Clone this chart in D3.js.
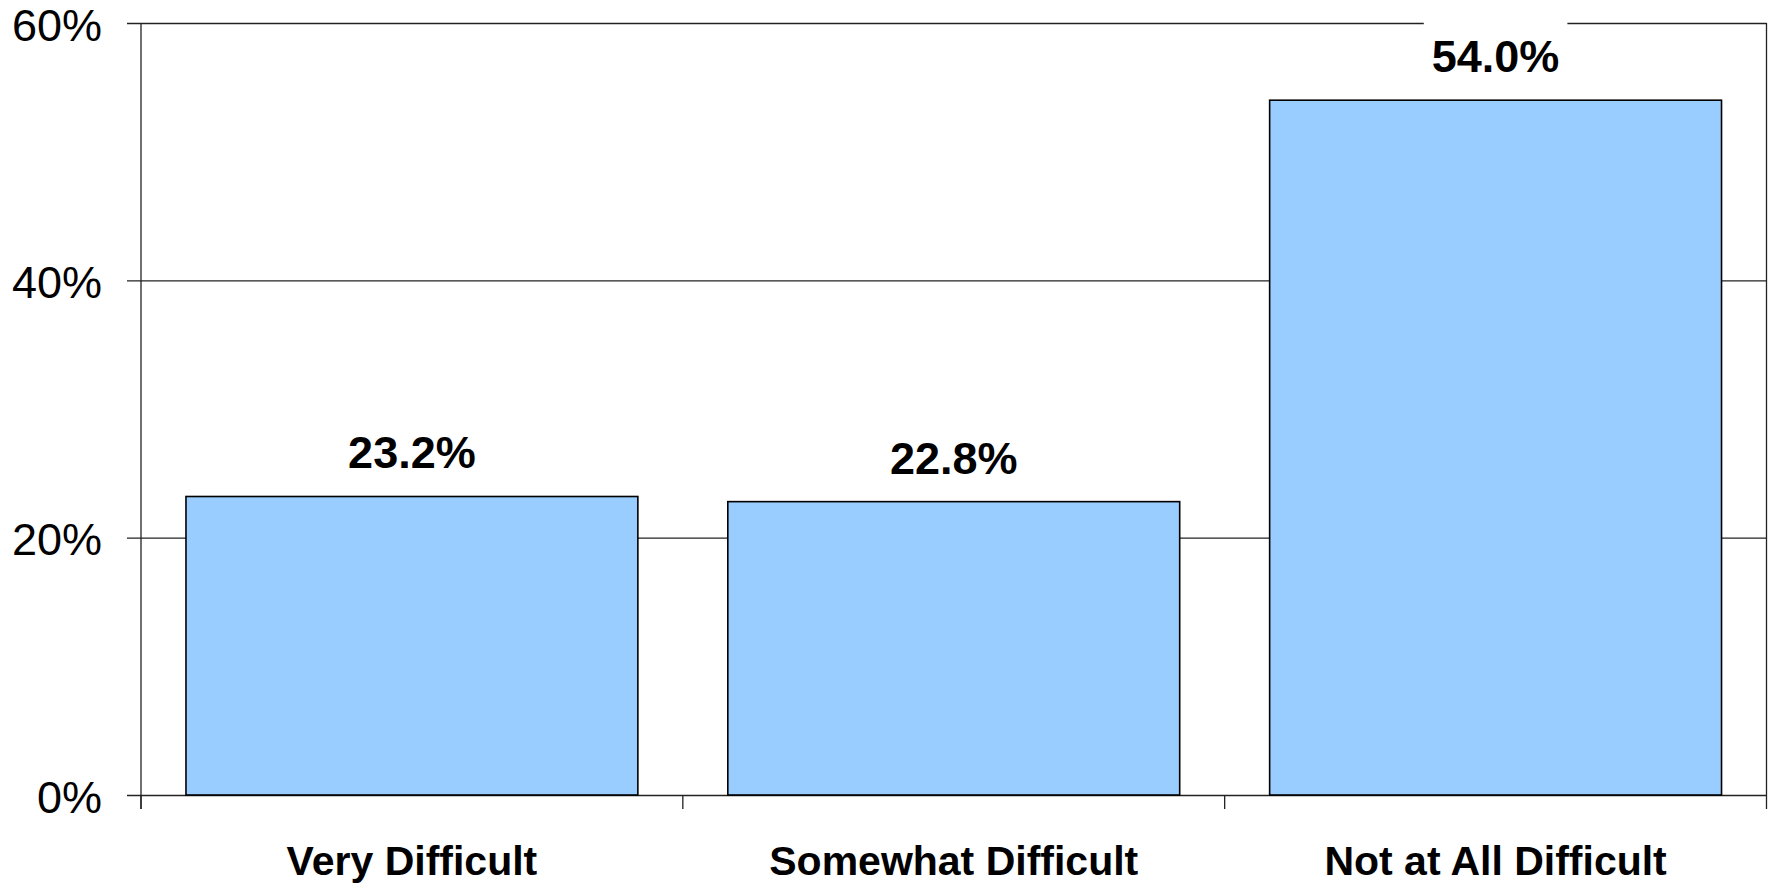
<!DOCTYPE html>
<html>
<head>
<meta charset="utf-8">
<script src="https://cdn.jsdelivr.net/npm/d3@7"></script>
<style>
  html, body { margin: 0; padding: 0; background: #fff; }
  svg { display: block; }
  text { font-family: "Liberation Sans", Arial, sans-serif; }
</style>
</head>
<body>
<svg id="chart" width="1777" height="883"></svg>
<script>
const categories = ["Very Difficult", "Somewhat Difficult", "Not at All Difficult"];
const values = [23.2, 22.8, 54.0];
const valueLabels = ["23.2%", "22.8%", "54.0%"];
const yTicks = [0, 20, 40, 60];
const yTickLabels = ["0%", "20%", "40%", "60%"];

const svg = d3.select("#chart");
const margin = { left: 141, right: 1777 - 1766.5, top: 23, bottom: 883 - 795 };
const W = 1777, H = 883;
const x0 = margin.left, x1 = W - margin.right;
const y0 = H - margin.bottom, y1 = margin.top;

const x = d3.scaleBand().domain(categories).range([x0, x1])
  .paddingInner(0.166).paddingOuter(0.083);
const y = d3.scaleLinear().domain([0, 60]).range([y0, y1]);

// gridlines and y ticks
const grid = svg.append("g");
grid.selectAll("line").data(yTicks).join("line")
  .attr("x1", x0 - 14).attr("x2", x1)
  .attr("y1", d => y(d) + 0.5).attr("y2", d => y(d) + 0.5)
  .attr("stroke", "#222").attr("stroke-width", 1.3);

// right border
svg.append("line").attr("x1", x1).attr("x2", x1).attr("y1", y1).attr("y2", y0)
  .attr("stroke", "#222").attr("stroke-width", 1.3);

// left axis line
svg.append("line").attr("x1", x0).attr("x2", x0).attr("y1", y1).attr("y2", y0 + 14)
  .attr("stroke", "#222").attr("stroke-width", 1.3);

// category boundary ticks
const step = x.step();
const bounds = d3.range(categories.length + 1).map(i => x0 + i * step);
svg.append("g").selectAll("line").data(bounds).join("line")
  .attr("x1", d => d).attr("x2", d => d)
  .attr("y1", y0).attr("y2", y0 + 14)
  .attr("stroke", "#222").attr("stroke-width", 1.3);

// y tick labels
svg.append("g").selectAll("text").data(yTicks).join("text")
  .attr("x", x0 - 39).attr("y", d => y(d) + 2)
  .attr("text-anchor", "end").attr("dominant-baseline", "central")
  .attr("font-size", 45).attr("fill", "#000")
  .text((d, i) => yTickLabels[i]);

// bars
svg.append("g").selectAll("rect").data(values).join("rect")
  .attr("x", (d, i) => x(categories[i]))
  .attr("y", d => y(d))
  .attr("width", x.bandwidth())
  .attr("height", d => y(0) - y(d))
  .attr("fill", "#99CCFF").attr("stroke", "#000").attr("stroke-width", 1.6);

// value labels with white background
const lg = svg.append("g");
values.forEach((v, i) => {
  const cx = x(categories[i]) + x.bandwidth() / 2;
  const by = y(v) - 28;
  const g = lg.append("g");
  const bg = g.append("rect").attr("fill", "#fff");
  const t = g.append("text")
    .attr("x", cx).attr("y", by)
    .attr("text-anchor", "middle").attr("font-weight", "bold")
    .attr("font-size", 45).attr("fill", "#000")
    .text(valueLabels[i]);
  const bb = t.node().getBBox();
  bg.attr("x", bb.x - 8).attr("y", bb.y - 14).attr("width", bb.width + 16).attr("height", bb.height + 18);
});

// category labels
svg.append("g").selectAll("text").data(categories).join("text")
  .attr("x", d => x(d) + x.bandwidth() / 2)
  .attr("y", 875)
  .attr("text-anchor", "middle").attr("font-weight", "bold")
  .attr("font-size", 41).attr("fill", "#000")
  .text(d => d);
</script>
</body>
</html>
